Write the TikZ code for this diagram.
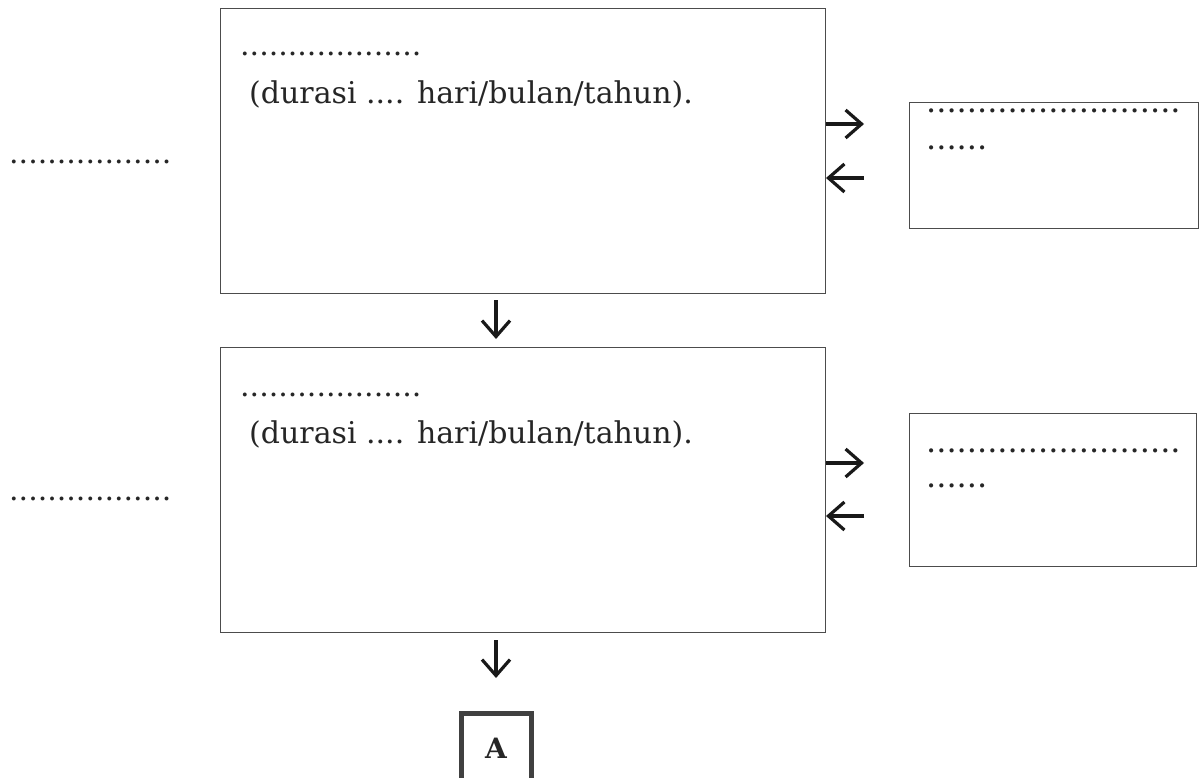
\documentclass[tikz,border=0pt]{standalone}
\usepackage{fontspec}
\setmainfont{DejaVu Serif}
\usetikzlibrary{arrows.meta}
\tikzset{
  bigbox/.style={draw=black!70, line width=1pt},
  txt/.style={anchor=base west, inner sep=0pt, text=black!85, font=\fontsize{30}{34}\selectfont},
  rtxt/.style={txt, font=\fontsize{32}{36}\selectfont},
  arr/.style={line width=3.2pt, black!90, -{Straight Barb[length=16pt,width=28pt,line width=3.2pt]}},
  abox/.style={draw=black!75, line width=5pt, minimum width=70pt, minimum height=70pt, text=black!85, font=\bfseries\fontsize{28}{32}\selectfont}
}
\begin{document}
\begin{tikzpicture}[x=1pt,y=-1pt]
\useasboundingbox (0,0) rectangle (1199,778);
% main boxes
\draw[bigbox] (220.5,8.5) rectangle (825.5,293.5);
\draw[bigbox] (220.5,347.5) rectangle (825.5,632.5);
% right boxes
\draw[bigbox] (909.5,102.5) rectangle (1198.5,228.5);
\draw[bigbox] (909.5,413.5) rectangle (1196.5,566.5);
% texts in main boxes
\node[txt] (t1a) at (240,56) {...................};
\node[txt] (t1b) at (249,104) {(durasi .... hari/bulan/tahun).};
\node[txt] (t2a) at (240,396) {...................};
\node[txt] (t2b) at (249,443) {(durasi .... hari/bulan/tahun).};
% left labels
\node[txt] (l1) at (9,164) {.................};
\node[txt] (l2) at (9,500) {.................};
% right box texts
\node[rtxt] (r1a) at (926,113) {.........................};
\node[rtxt] (r1b) at (926,150) {......};
\node[rtxt] (r2a) at (926,452) {.........................};
\node[rtxt] (r2b) at (926,487) {......};
% side arrows
\coordinate (a1s) at (826,124); \coordinate (a1e) at (864,124);
\coordinate (a2s) at (864,178); \coordinate (a2e) at (826,178);
\coordinate (a3s) at (826,463); \coordinate (a3e) at (864,463);
\coordinate (a4s) at (864,516); \coordinate (a4e) at (826,516);
\draw[arr] (a1s) -- (a1e);
\draw[arr] (a2s) -- (a2e);
\draw[arr] (a3s) -- (a3e);
\draw[arr] (a4s) -- (a4e);
% down arrows
\coordinate (d1s) at (496,300); \coordinate (d1e) at (496,339);
\coordinate (d2s) at (496,640); \coordinate (d2e) at (496,678);
\draw[arr] (d1s) -- (d1e);
\draw[arr] (d2s) -- (d2e);
% A box
\node[abox] (A) at (496,748) {A};
\end{tikzpicture}
\end{document}
